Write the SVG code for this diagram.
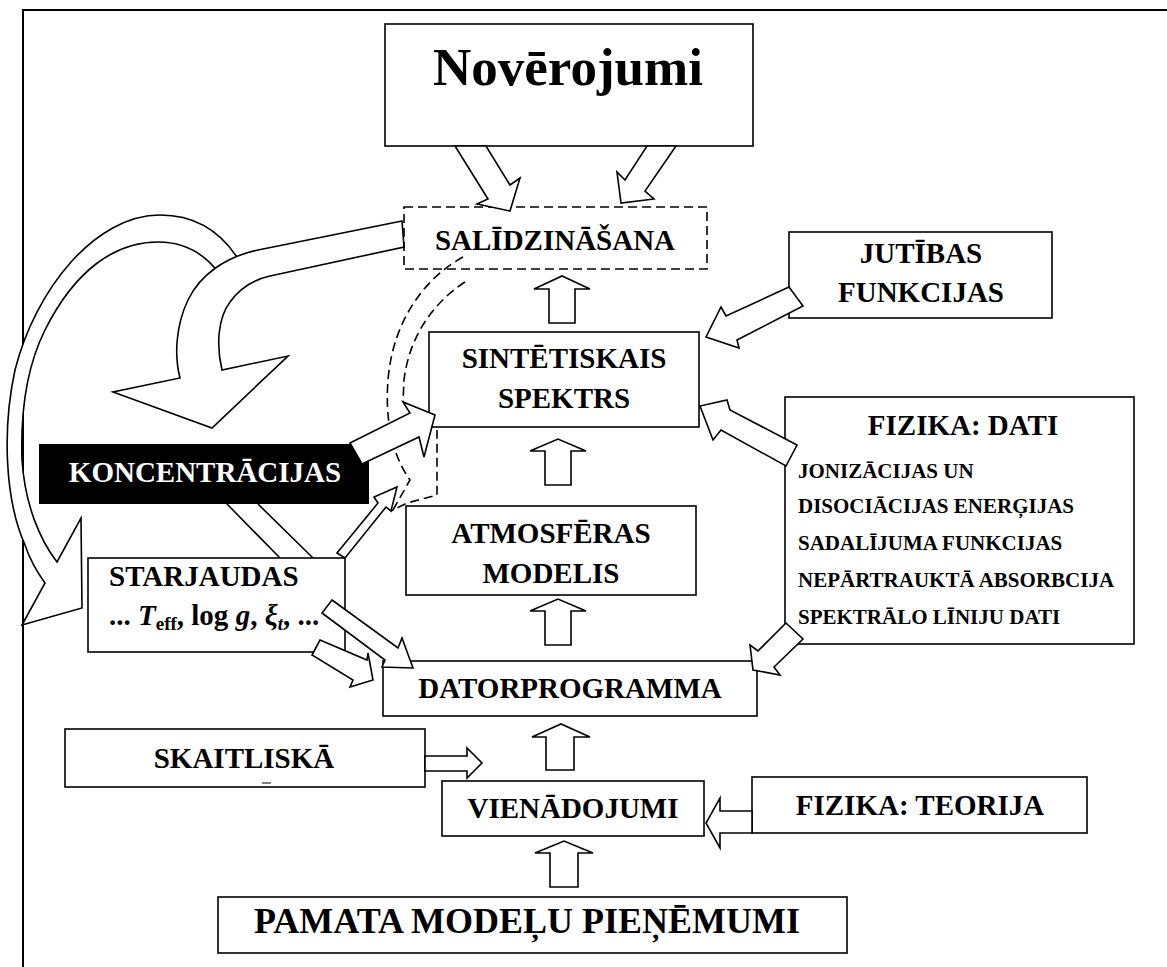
<svg xmlns="http://www.w3.org/2000/svg" width="1167" height="967" viewBox="0 0 1167 967">
<style>
.bx{fill:#fff;stroke:#000;stroke-width:1.6}
.ar{fill:#fff;stroke:#000;stroke-width:1.6;stroke-linejoin:miter}
.ds{fill:none;stroke:#000;stroke-width:1.6;stroke-dasharray:9 5}
.t{font-family:"Liberation Serif","Times New Roman",serif;font-weight:bold;font-size:29px;fill:#000}
.m{text-anchor:middle}
.s{font-size:21px}
</style>
<rect width="1167" height="967" fill="#fff"/>
<g id="frame">
<path d="M23,967 V10 H1167" fill="none" stroke="#000" stroke-width="2"/>
</g>
<g id="connectors">
<path id="curve-outer" class="ar" d="M240,262 C222,232 195,215 160,215 C95,215 35,290 15,370 C2,430 5,500 25,545 C30,560 37,572 45,583 L22,625 L82,608 L81,518 L57,562 C40,540 25,505 22,460 C20,400 30,360 45,330 C75,270 115,242 158,242 C185,242 205,255 218,272 Z"/>
<path id="curve-inner" class="ar" d="M402,221 L258,250 C225,257 200,275 188,300 C176,325 174,355 180,378 L113,392 L212,428 L288,356 L222,370 C216,345 218,318 230,302 C240,288 252,280 270,276 L404,247 Z"/>
<path class="ds" d="M463,257 C425,278 393,320 388,380 C385,420 392,455 410,480 L393,510 L407,503 L437,495 L437,430"/>
<path class="ds" d="M465,282 C440,298 410,330 404,380 L403,402"/>
<path d="M227,504 L280,558 M258,504 L313,558" stroke="#000" stroke-width="1.6" fill="none"/>
</g>
<g id="novērojumi">
<rect class="bx" x="385" y="24" width="368" height="122"/>
<text class="t m" x="568" y="85" style="font-size:53px">Novērojumi</text>
</g>
<g id="salīdzināšana">
<rect class="ds" x="404" y="207" width="303" height="62"/>
<text class="t m" x="555" y="250">SALĪDZINĀŠANA</text>
</g>
<g id="jutības">
<rect class="bx" x="789" y="232" width="263" height="86"/>
<text class="t m" x="921" y="263">JUTĪBAS</text>
<text class="t m" x="921" y="302">FUNKCIJAS</text>
</g>
<g id="sintētiskais">
<rect class="bx" x="429" y="332" width="270" height="95"/>
<text class="t m" x="564" y="368">SINTĒTISKAIS</text>
<text class="t m" x="564" y="408">SPEKTRS</text>
</g>
<g id="fizika-dati">
<rect class="bx" x="785" y="397" width="349" height="247"/>
<text class="t m" x="963" y="435">FIZIKA: DATI</text>
<text class="t s" x="798" y="478">JONIZĀCIJAS UN</text>
<text class="t s" x="798" y="513">DISOCIĀCIJAS ENERĢIJAS</text>
<text class="t s" x="798" y="550">SADALĪJUMA FUNKCIJAS</text>
<text class="t s" x="798" y="587">NEPĀRTRAUKTĀ ABSORBCIJA</text>
<text class="t s" x="798" y="624">SPEKTRĀLO LĪNIJU DATI</text>
</g>
<g id="koncentrācijas">
<rect x="39" y="444" width="330" height="60" fill="#000"/>
<text class="t m" x="205" y="482" style="fill:#fff">KONCENTRĀCIJAS</text>
</g>
<g id="atmosfēras">
<rect class="bx" x="406" y="506" width="290" height="89"/>
<text class="t m" x="551" y="543">ATMOSFĒRAS</text>
<text class="t m" x="551" y="583">MODELIS</text>
</g>
<g id="starjaudas">
<rect class="bx" x="88" y="558" width="257" height="94"/>
<text class="t" x="109" y="586">STARJAUDAS</text>
<text class="t" x="109" y="625">... <tspan font-style="italic">T</tspan><tspan style="font-size:19px" dy="5">eff</tspan><tspan dy="-5">, log </tspan><tspan font-style="italic">g</tspan>, <tspan font-style="italic">ξ</tspan><tspan font-style="italic" style="font-size:19px" dy="5">t</tspan><tspan dy="-5">, ...</tspan></text>
</g>
<g id="datorprogramma">
<rect class="bx" x="383" y="661" width="374" height="55"/>
<text class="t m" x="570" y="698">DATORPROGRAMMA</text>
</g>
<g id="skaitliskā">
<rect class="bx" x="65" y="729" width="360" height="58"/>
<text class="t m" x="244" y="768">SKAITLISKĀ</text>
<line x1="262" y1="783" x2="271" y2="783" stroke="#000" stroke-width="1"/>
</g>
<g id="vienādojumi">
<rect class="bx" x="442" y="781" width="262" height="55"/>
<text class="t m" x="573" y="818">VIENĀDOJUMI</text>
</g>
<g id="fizika-teorija">
<rect class="bx" x="752" y="777" width="335" height="56"/>
<text class="t m" x="920" y="815">FIZIKA: TEORIJA</text>
</g>
<g id="pamata">
<rect class="bx" x="218" y="897" width="629" height="56"/>
<text class="t m" x="527" y="933" style="font-size:36px">PAMATA MODEĻU PIEŅĒMUMI</text>
</g>
<g id="arrows">
<polygon class="ar" points="455,146 488,199 477,204 510,211 520,178 510,185 486,146"/>
<polygon class="ar" points="676,146 645,191 654,199 621,203 617,172 625,180 647,146"/>
<polygon class="ar" points="549,323 549,289 534,289 562,276 590,289 575,289 575,323"/>
<polygon class="ar" points="545,485 545,451 530,451 558,439 586,451 571,451 571,485"/>
<polygon class="ar" points="545,645 545,611 530,611 558,599 586,611 571,611 571,645"/>
<polygon class="ar" points="546,770 546,737 532,737 561,724 590,737 574,737 574,770"/>
<polygon class="ar" points="550,887 550,853 535,853 564,841 593,853 578,853 578,887"/>
<polygon class="ar" points="425,756 467,756 467,748 482,763 467,778 467,771 425,771"/>
<polygon class="ar" points="752,811 720,811 720,798 706,823 720,848 720,833 752,833"/>
<polygon class="ar" points="789,287 726,316 721,307 706,337 739,348 737,340 803,306"/>
<polygon class="ar" points="797,445 730,410 727,400 700,406 713,440 721,430 786,466"/>
<polygon class="ar" points="786,623 758,651 750,645 753,670 780,675 774,667 803,639"/>
<polygon class="ar" points="350,443 410,413 403,402 435,415 424,457 419,437 362,464"/>
<polygon class="ar" points="337,553 378,503 374,497 397,487 391,511 386,507 345,558"/>
<polygon class="ar" points="332,600 398,648 402,638 413,668 382,667 385,660 322,613"/>
<polygon class="ar" points="320,640 367,660 368,653 373,680 350,687 353,680 312,655"/>
</g>
</svg>
